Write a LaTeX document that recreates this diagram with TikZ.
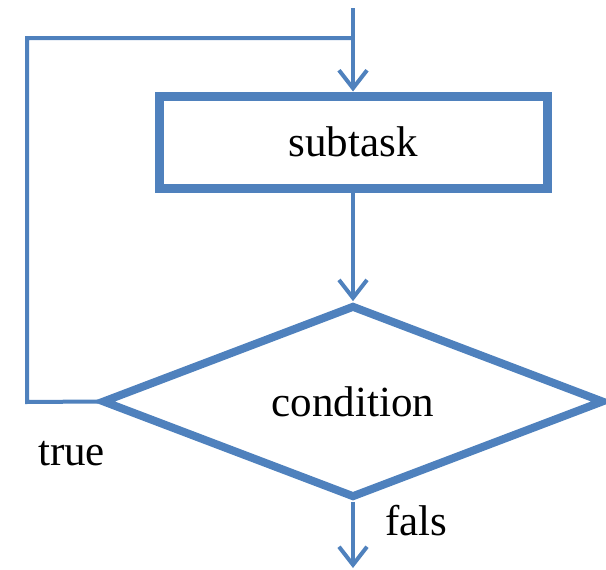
\documentclass[tikz,border=0pt]{standalone}
\usepackage{fontspec}
\setmainfont{Liberation Serif}
\usetikzlibrary{shapes.geometric,arrows.meta}
\definecolor{ob}{HTML}{4F81BD}
\begin{document}
\begin{tikzpicture}[x=1pt,y=-1pt,
  conn/.style={draw=ob,line width=4pt,-{Straight Barb[length=18pt,width=28pt]}},
  loopline/.style={draw=ob,line width=4pt},
  lbl/.style={font=\fontsize{43}{50}\selectfont,inner sep=0pt,text=black},
  taskbox/.style={draw=ob,line width=9pt,rectangle,minimum width=388pt,minimum height=92pt,inner sep=0pt,font=\fontsize{43}{50}\selectfont},
  decision/.style={draw=ob,line width=8pt,diamond,minimum width=502pt,minimum height=185pt,inner sep=0pt,font=\fontsize{43}{50}\selectfont}
]
\useasboundingbox (0,0) rectangle (606,570);
\node[taskbox] (task) at (353,142) {subtask};
\node[decision] (cond) at (353,401.5) {condition};
\coordinate (top) at (353,8);
\coordinate (lt) at (353,38);
\coordinate (lc) at (27,38);
\coordinate (lb) at (27,402);
\coordinate (out) at (353,568);
\draw[conn] (top) -- (task.north);
\draw[loopline] (lt) -- (lc) -- (lb) -- (cond.west);
\draw[conn] (task.south) -- (cond.north);
\draw[conn] (cond.south) -- (out);
\node[lbl,anchor=base west] (tl) at (38,465) {true};
\node[lbl,anchor=base west] (fl) at (385,535) {fals};
\end{tikzpicture}
\end{document}
